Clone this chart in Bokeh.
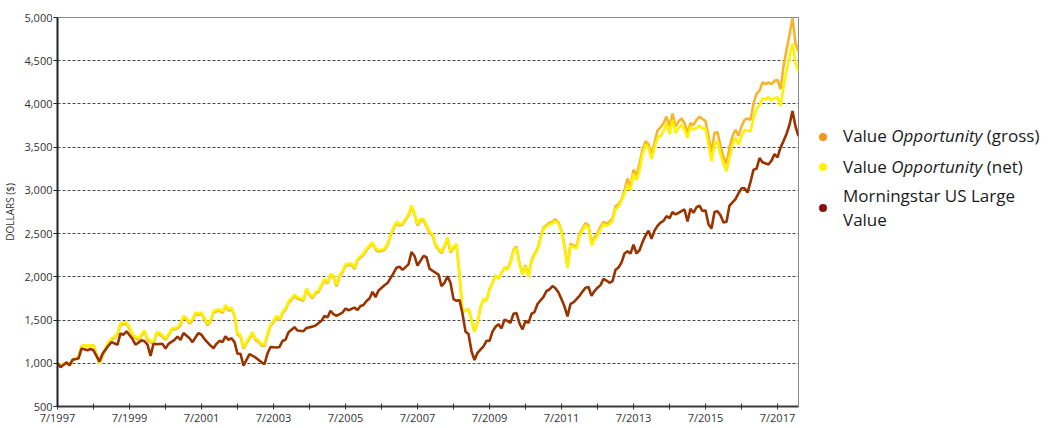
from bokeh.plotting import figure
from bokeh.models import ColumnDataSource, FixedTicker, NumeralTickFormatter, Div, Range1d
from bokeh.layouts import row
from bokeh.embed import file_html
from bokeh.resources import INLINE

# ---------------- data ----------------
# months elapsed since July 1997 (monthly observations)
fund_months = [
    0, 1, 3, 4, 5, 7, 8, 10, 11, 12, 14, 15, 17, 18, 19, 20, 21, 23, 24, 25,
    27, 28, 29, 30, 32, 33, 34, 35, 36, 37, 38, 40, 41, 42, 43, 44, 45, 46, 47, 48,
    50, 51, 52, 54, 55, 56, 57, 58, 59, 60, 61, 62, 63, 65, 66, 67, 68, 69, 70, 71,
    72, 73, 74, 75, 76, 77, 78, 79, 80, 82, 83, 84, 85, 86, 87, 89, 90, 91, 92, 93,
    94, 95, 96, 98, 99, 100, 102, 103, 104, 105, 106, 107, 109, 110, 111, 112, 113, 114, 115, 117,
    118, 119, 120, 121, 122, 123, 124, 125, 126, 127, 128, 129, 130, 131, 132, 133, 134, 135, 137, 138,
    139, 140, 141, 142, 143, 144, 145, 146, 147, 148, 149, 150, 151, 152, 153, 154, 155, 156, 157, 158,
    159, 160, 161, 162, 164, 165, 166, 167, 168, 169, 170, 171, 172, 173, 174, 175, 176, 177, 178, 179,
    180, 181, 182, 183, 184, 185, 186, 187, 188, 189, 190, 191, 192, 193, 194, 195, 196, 197, 198, 199,
    200, 201, 202, 203, 204, 205, 206, 207, 208, 209, 210, 211, 212, 213, 214, 215, 216, 217, 218, 219,
    220, 221, 222, 223, 224, 225, 226, 227, 228, 229, 230, 231, 232, 233, 234, 235, 236, 237, 238, 239,
    240, 241, 242, 243, 244, 245, 246, 247,
]

value_opp_net = [
    1000, 975, 1010, 975, 1040, 1070, 1200, 1207, 1200, 1210, 995, 1098, 1248, 1286, 1305, 1350, 1462, 1474, 1417, 1335,
    1286, 1335, 1380, 1286, 1237, 1361, 1350, 1323, 1286, 1335, 1399, 1417, 1455, 1549, 1523, 1474, 1511, 1587, 1575, 1587,
    1455, 1500, 1605, 1624, 1598, 1673, 1624, 1643, 1568, 1342, 1330, 1185, 1246, 1360, 1284, 1265, 1220, 1216, 1341, 1447,
    1492, 1549, 1511, 1595, 1636, 1712, 1750, 1795, 1765, 1739, 1864, 1803, 1765, 1826, 1841, 1977, 1939, 2030, 2015, 1909,
    2015, 2068, 2144, 2155, 2106, 2205, 2269, 2326, 2364, 2402, 2333, 2307, 2326, 2383, 2485, 2572, 2636, 2610, 2621, 2724,
    2826, 2735, 2610, 2667, 2670, 2598, 2523, 2496, 2383, 2326, 2289, 2364, 2458, 2296, 2345, 2383, 2025, 1592, 1629, 1497,
    1366, 1478, 1648, 1742, 1723, 1855, 1931, 2017, 1980, 2044, 2108, 2081, 2157, 2296, 2334, 2138, 2025, 2119, 1995, 2176,
    2251, 2308, 2439, 2552, 2609, 2620, 2647, 2609, 2515, 2345, 2100, 2364, 2345, 2326, 2477, 2534, 2598, 2571, 2364, 2432,
    2477, 2552, 2609, 2590, 2609, 2647, 2786, 2809, 2880, 2965, 3061, 3005, 3193, 3118, 3231, 3419, 3532, 3495, 3363, 3495,
    3608, 3627, 3683, 3777, 3653, 3815, 3664, 3721, 3758, 3702, 3608, 3740, 3702, 3721, 3751, 3713, 3721, 3532, 3344, 3532,
    3570, 3419, 3306, 3223, 3382, 3532, 3608, 3530, 3627, 3702, 3691, 3683, 3834, 3947, 3985, 4068, 4052, 4079, 4041, 4068,
    4079, 3977, 4192, 4380, 4550, 4700, 4474, 4380,
]

value_opp_gross = [
    1000, 975, 1010, 975, 1040, 1070, 1200, 1207, 1200, 1210, 995, 1083, 1233, 1271, 1290, 1335, 1447, 1459, 1402, 1320,
    1271, 1320, 1365, 1271, 1222, 1346, 1335, 1308, 1271, 1320, 1384, 1402, 1440, 1534, 1508, 1459, 1496, 1572, 1560, 1572,
    1440, 1485, 1590, 1609, 1583, 1658, 1609, 1628, 1553, 1327, 1315, 1170, 1231, 1345, 1269, 1250, 1205, 1201, 1326, 1432,
    1477, 1534, 1496, 1580, 1621, 1697, 1735, 1780, 1750, 1724, 1849, 1788, 1750, 1811, 1826, 1962, 1924, 2015, 2000, 1894,
    2000, 2053, 2129, 2140, 2091, 2190, 2254, 2311, 2349, 2387, 2318, 2292, 2311, 2368, 2470, 2557, 2621, 2595, 2606, 2709,
    2811, 2720, 2595, 2652, 2655, 2583, 2508, 2481, 2368, 2311, 2274, 2349, 2443, 2281, 2330, 2368, 2025, 1592, 1629, 1497,
    1366, 1478, 1648, 1742, 1723, 1855, 1931, 2017, 1980, 2044, 2108, 2096, 2172, 2311, 2349, 2153, 2040, 2134, 2010, 2191,
    2266, 2323, 2454, 2567, 2627, 2638, 2665, 2627, 2533, 2363, 2118, 2384, 2365, 2346, 2497, 2556, 2620, 2593, 2386, 2456,
    2501, 2578, 2635, 2616, 2637, 2675, 2815, 2840, 2892, 3000, 3137, 3043, 3239, 3174, 3306, 3476, 3570, 3532, 3419, 3551,
    3691, 3728, 3777, 3853, 3740, 3890, 3740, 3796, 3834, 3777, 3664, 3777, 3758, 3815, 3853, 3826, 3804, 3627, 3438, 3664,
    3676, 3514, 3382, 3306, 3495, 3627, 3702, 3630, 3740, 3815, 3834, 3815, 4003, 4116, 4154, 4248, 4229, 4248, 4229, 4267,
    4278, 4173, 4437, 4625, 4800, 4995, 4700, 4606,
]

bench_months = [
    0, 1, 3, 4, 5, 7, 8, 10, 11, 12, 14, 15, 17, 18, 20, 21, 22, 23, 25, 26,
    28, 29, 30, 31, 32, 33, 35, 36, 37, 39, 40, 41, 42, 44, 45, 46, 47, 48, 49, 51,
    52, 53, 54, 55, 56, 57, 58, 59, 60, 61, 62, 64, 66, 68, 69, 70, 71, 73, 74, 75,
    76, 77, 79, 80, 82, 83, 85, 86, 88, 89, 90, 91, 92, 93, 95, 96, 97, 99, 100, 101,
    102, 103, 104, 105, 106, 107, 109, 110, 111, 112, 113, 114, 115, 117, 118, 119, 120, 122, 123, 124,
    125, 127, 128, 129, 130, 131, 132, 133, 134, 135, 136, 137, 138, 139, 140, 142, 143, 144, 145, 146,
    147, 148, 149, 150, 151, 152, 153, 154, 155, 156, 157, 158, 159, 160, 162, 163, 164, 165, 166, 167,
    168, 169, 170, 171, 172, 173, 174, 175, 176, 177, 178, 179, 180, 181, 182, 183, 184, 185, 186, 187,
    188, 189, 190, 191, 192, 193, 194, 195, 196, 197, 198, 199, 200, 201, 202, 203, 204, 205, 206, 207,
    208, 209, 210, 211, 212, 213, 214, 215, 216, 217, 218, 219, 220, 221, 222, 223, 224, 225, 226, 227,
    228, 229, 230, 231, 232, 233, 234, 235, 237, 238, 239, 240, 241, 242, 243, 244, 245, 246, 247,
]

morningstar_lv = [
    1000, 955, 1010, 975, 1040, 1055, 1170, 1150, 1165, 1150, 1020, 1110, 1205, 1245, 1215, 1345, 1330, 1370, 1280, 1215,
    1265, 1255, 1215, 1085, 1225, 1220, 1225, 1170, 1225, 1270, 1310, 1270, 1350, 1290, 1245, 1300, 1350, 1330, 1280, 1205,
    1175, 1225, 1260, 1245, 1312, 1270, 1290, 1245, 1110, 1110, 972, 1106, 1068, 1011, 989, 1114, 1189, 1182, 1189, 1258,
    1273, 1360, 1417, 1379, 1371, 1409, 1424, 1436, 1492, 1549, 1530, 1606, 1568, 1549, 1587, 1633, 1614, 1644, 1617, 1663,
    1674, 1720, 1750, 1826, 1765, 1841, 1902, 1928, 1985, 2042, 2106, 2117, 2080, 2144, 2288, 2242, 2129, 2242, 2226, 2095,
    2070, 2025, 1893, 1931, 2006, 1931, 1742, 1723, 1731, 1573, 1366, 1339, 1139, 1038, 1121, 1196, 1260, 1260, 1366, 1422,
    1452, 1403, 1505, 1490, 1467, 1573, 1580, 1460, 1392, 1490, 1467, 1573, 1592, 1686, 1769, 1836, 1855, 1893, 1867, 1818,
    1742, 1656, 1543, 1686, 1705, 1742, 1780, 1829, 1874, 1882, 1780, 1836, 1874, 1904, 1976, 1957, 1931, 1950, 2081, 2108,
    2165, 2270, 2297, 2270, 2372, 2270, 2308, 2402, 2477, 2534, 2440, 2534, 2590, 2628, 2647, 2703, 2677, 2749, 2722, 2741,
    2760, 2779, 2640, 2786, 2741, 2805, 2824, 2760, 2771, 2609, 2560, 2749, 2760, 2711, 2628, 2636, 2824, 2862, 2899, 2967,
    3024, 3024, 2975, 3099, 3239, 3250, 3374, 3325, 3299, 3344, 3419, 3382, 3495, 3570, 3653, 3759, 3917, 3740, 3627,
]

x_tick_years = [1997, 1998, 1999, 2000, 2001, 2002, 2003, 2004, 2005, 2006, 2007,
                2008, 2009, 2010, 2011, 2012, 2013, 2014, 2015, 2016, 2017]
x_tick_labels = ["7/1997", "", "7/1999", "", "7/2001", "", "7/2003", "", "7/2005", "", "7/2007",
                 "", "7/2009", "", "7/2011", "", "7/2013", "", "7/2015", "", "7/2017"]
y_ticks = [500, 1000, 1500, 2000, 2500, 3000, 3500, 4000, 4500, 5000]

# ---------------- conversions ----------------
def to_year(m):
    return 1997.5 + m / 12.0

src_gross = ColumnDataSource(dict(x=[to_year(m) for m in fund_months], y=value_opp_gross))
src_net = ColumnDataSource(dict(x=[to_year(m) for m in fund_months], y=value_opp_net))
src_bench = ColumnDataSource(dict(x=[to_year(m) for m in bench_months], y=morningstar_lv))

FONT = "Open Sans"

p = figure(width=808, height=427, output_backend="svg", toolbar_location=None,
           x_range=Range1d(1997.5, to_year(max(fund_months))), y_range=Range1d(500, 5000))
p.min_border_top = 17
p.min_border_right = 10
p.min_border_left = 49
p.min_border_bottom = 10
p.background_fill_color = "white"
p.border_fill_color = "white"
p.outline_line_color = "#8a8a8a"
p.outline_line_width = 1

p.line("x", "y", source=src_gross, line_color="#F9B52A", line_width=2.6)
p.line("x", "y", source=src_net, line_color="#FFF200", line_width=2.6)
p.line("x", "y", source=src_bench, line_color="#993300", line_width=2.6)

# x axis
xt = [y + 0.5 for y in x_tick_years]
p.xaxis.ticker = FixedTicker(ticks=xt)
p.xaxis.major_label_overrides = {t: lab for t, lab in zip(xt, x_tick_labels)}
p.xaxis.minor_tick_line_color = None
p.xaxis.major_tick_in = 3
p.xaxis.major_tick_out = 3
p.xaxis.major_tick_line_color = "#333333"
p.xaxis.axis_line_color = "#3a3a3a"
p.xaxis.axis_line_width = 2
p.xaxis.major_label_standoff = 0
p.xaxis.major_label_text_font = FONT
p.xaxis.major_label_text_font_size = "11px"
p.xaxis.major_label_text_color = "#333333"

# y axis
p.yaxis.ticker = FixedTicker(ticks=y_ticks)
p.yaxis.formatter = NumeralTickFormatter(format="0,0")
p.yaxis.minor_tick_line_color = None
p.yaxis.major_tick_in = 0
p.yaxis.major_tick_out = 4
p.yaxis.major_tick_line_color = "#222222"
p.yaxis.axis_line_color = "#222222"
p.yaxis.axis_line_width = 2
p.yaxis.major_label_standoff = 1
p.yaxis.major_label_text_font = FONT
p.yaxis.major_label_text_font_size = "11px"
p.yaxis.major_label_text_color = "#333333"
p.yaxis.axis_label = "DOLLARS ($)"
p.yaxis.axis_label_text_font = FONT
p.yaxis.axis_label_text_font_size = "10px"
p.yaxis.axis_label_text_font_style = "normal"
p.yaxis.axis_label_text_color = "#333333"
p.yaxis.axis_label_standoff = 4

p.xgrid.grid_line_color = None
p.ygrid.grid_line_color = "#4a4a4a"
p.ygrid.grid_line_dash = "3 2"
p.ygrid.grid_line_width = 1

# legend as html (allows italic word)
legend_colors = ["#F7941D", "#FFF200", "#8B0F0F"]
legend_lines = [["Value <i>Opportunity</i> (gross)"], ["Value <i>Opportunity</i> (net)"],
                ["Morningstar US Large", "Value"]]
text_tops = [[124], [155], [184, 208]]
dot_tops = [133, 163, 204]
items = []
for col, lines, tops, dt in zip(legend_colors, legend_lines, text_tops, dot_tops):
    items.append(
        f'<span style="position:absolute;left:11px;top:{dt}px;width:8px;height:8px;'
        f'border-radius:50%;background:{col};"></span>'
    )
    for lab, tt in zip(lines, tops):
        items.append(
            f'<div style="position:absolute;left:35px;top:{tt}px;line-height:24px;'
            f'white-space:nowrap;">{lab}</div>'
        )
legend_div = Div(
    text=f'<div style="position:relative;width:242px;height:420px;font-family:\'Open Sans\';'
         f'font-size:17px;color:#1a1a1a;">' + "".join(items) + "</div>",
    width=242, height=420, margin=(0, 0, 0, 0),
)

layout = row(p, legend_div)
open("out.html", "w").write(file_html(layout, INLINE))
